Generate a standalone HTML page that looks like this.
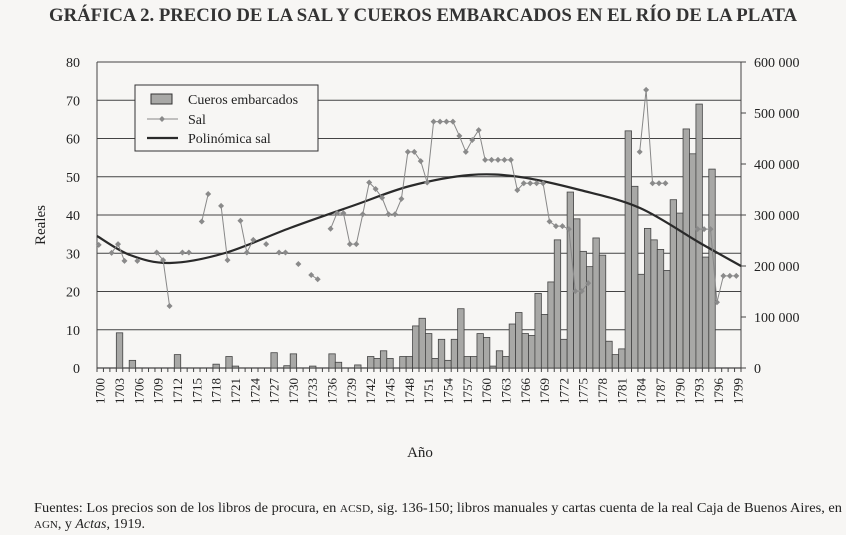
<!DOCTYPE html>
<html><head><meta charset="utf-8"><style>
body{margin:0;background:#f7f6f4;}
svg{display:block;font-family:"Liberation Serif",serif;}
</style></head><body>
<svg id="s" width="846" height="535" viewBox="0 0 846 535" xmlns="http://www.w3.org/2000/svg">
<rect width="846" height="535" fill="#f7f6f4"/>
<text x="49" y="21" font-size="18.5" fill="#333" font-weight="600" textLength="748" lengthAdjust="spacingAndGlyphs">GRÁFICA 2. PRECIO DE LA SAL Y CUEROS EMBARCADOS EN EL RÍO DE LA PLATA</text>
<g id="g"></g>
<text x="420" y="457" text-anchor="middle" font-size="15" fill="#222">Año</text>
<text transform="translate(45,225) rotate(-90)" text-anchor="middle" font-size="15" fill="#222">Reales</text>
<text x="34" y="512" font-size="14" fill="#222" textLength="808" lengthAdjust="spacingAndGlyphs">Fuentes: Los precios son de los libros de procura, en <tspan font-size="11">ACSD</tspan>, sig. 136-150; libros manuales y cartas cuenta de la real Caja de Buenos Aires, en</text>
<text x="34" y="528" font-size="14" fill="#222"><tspan font-size="11">AGN</tspan>, y <tspan font-style="italic">Actas</tspan>, 1919.</text>
</svg>
<script>
const g=document.getElementById('g');const NS="http://www.w3.org/2000/svg";
function el(t,a,txt){const e=document.createElementNS(NS,t);for(const k in a)e.setAttribute(k,a[k]);if(txt!==undefined)e.textContent=txt;g.appendChild(e);return e;}
const L=97,R=741,Y0=368,S=3.825,W=6.44;
const Y=v=>Y0-v*S, X=i=>L+W*(i+0.5);
for(let v=0;v<=80;v+=10){el('line',{x1:L,x2:R,y1:Y(v),y2:Y(v),stroke:'#444','stroke-width':v==0?1.3:1.1});
el('text',{x:80,y:Y(v)+5,'text-anchor':'end','font-size':14,fill:'#222'},v);}
el('line',{x1:L,x2:L,y1:Y(80),y2:Y0,stroke:'#444'});
el('line',{x1:R,x2:R,y1:Y(80),y2:Y0,stroke:'#444'});
const rl=['0','100 000','200 000','300 000','400 000','500 000','600 000'];
for(let k=0;k<=6;k++){const y=Y0-k*51;el('line',{x1:R,x2:R+5,y1:y,y2:y,stroke:'#444'});
el('text',{x:R+13,y:y+5,'font-size':14,fill:'#222'},rl[k]);}
const bars={1703:9.2,1705:2,1712:3.5,1718:1,1720:3,1721:0.5,1727:4,1729:0.6,1730:3.7,1733:0.5,1736:3.7,1737:1.5,1740:0.8,1742:3,1743:2.5,1744:4.5,1745:2.5,1747:3,1748:3,1749:11,1750:13,1751:9,1752:2.5,1753:7.5,1754:2,1755:7.5,1756:15.5,1757:3,1758:3,1759:9,1760:8,1761:0.5,1762:4.5,1763:3,1764:11.5,1765:14.5,1766:9,1767:8.5,1768:19.5,1769:14,1770:22.5,1771:33.5,1772:7.5,1773:46,1774:39,1775:30.5,1776:26.5,1777:34,1778:29.5,1779:7,1780:3.5,1781:5,1782:62,1783:47.5,1784:24.5,1785:36.5,1786:33.5,1787:31,1788:25.5,1789:44,1790:40.5,1791:62.5,1792:56,1793:69,1794:29,1795:52};
for(const y in bars){const i=y-1700,v=bars[y];el('rect',{x:L+W*i,y:Y(v),width:W,height:v*S,fill:'#a8a8a6',stroke:'#444','stroke-width':0.8});}
for(let i=0;i<=100;i++){el('line',{x1:L+W*i,x2:L+W*i,y1:Y0,y2:Y0+4,stroke:'#444'});}
for(let i=0;i<100;i+=3){el('text',{transform:`translate(${X(i)+4.5},404) rotate(-90)`,'font-size':13,fill:'#222'},1700+i);}
const tp=[[97,236],[130,255],[170,263],[225,253],[290,228],[355,205],[410,186],[470,175],[520,177],[580,190],[640,208],[700,243],[741,266]];
let d='M'+tp[0];for(let k=0;k<tp.length-1;k++){const p0=tp[k-1]||tp[k],p1=tp[k],p2=tp[k+1],p3=tp[k+2]||p2;
d+=` C${p1[0]+(p2[0]-p0[0])/6},${p1[1]+(p2[1]-p0[1])/6} ${p2[0]-(p3[0]-p1[0])/6},${p2[1]-(p3[1]-p1[1])/6} ${p2[0]},${p2[1]}`;}
el('path',{d,fill:'none',stroke:'#2a2a2a','stroke-width':2.2});
const segs=[[[1700,32.2]],[[1702,30.1],[1703,32.4],[1704,28]],[[1706,28]],[[1709,30.2],[1710,28.2],[1711,16.2]],[[1713,30.2],[1714,30.2]],[[1716,38.3],[1717,45.5]],[[1719,42.4],[1720,28.2]],[[1722,38.5],[1723,30.2],[1724,33.5]],[[1726,32.4]],[[1728,30.2],[1729,30.2]],[[1731,27.2]],[[1733,24.3],[1734,23.2]],
[[1736,36.4],[1737,40.5],[1738,40.5],[1739,32.4],[1740,32.4],[1741,40.2],[1742,48.5],[1743,46.8],[1744,44.5],[1745,40.2],[1746,40.2],[1747,44.2],[1748,56.5],[1749,56.5],[1750,54.1],[1751,48.5],[1752,64.4],[1753,64.4],[1754,64.4],[1755,64.4],[1756,60.7],[1757,56.5],[1758,59.6],[1759,62.2],[1760,54.4],[1761,54.4],[1762,54.4],[1763,54.4],[1764,54.4],[1765,46.5],[1766,48.3],[1767,48.3],[1768,48.3],[1769,48.3],[1770,38.3],[1771,37.1],[1772,37.1],[1773,36.3],[1774,20.1],[1775,20.1],[1776,22.2]],
[[1784,56.5],[1785,72.7],[1786,48.3],[1787,48.3],[1788,48.3]],[[1793,36.3],[1794,36.3],[1795,36.3],[1796,17.2],[1797,24.1],[1798,24.1],[1799,24.1]]];
for(const s of segs){const pts=s.map(p=>[X(p[0]-1700)-1.5,Y(p[1])]);
if(pts.length>1)el('polyline',{points:pts.join(' '),fill:'none',stroke:'#888','stroke-width':1});
for(const p of pts)el('path',{d:`M${p[0]-3},${p[1]} L${p[0]},${p[1]-3} L${p[0]+3},${p[1]} L${p[0]},${p[1]+3}Z`,fill:'#8a8a8a'});}
el('rect',{x:135,y:85,width:183,height:66,fill:'#f7f6f4',stroke:'#333','stroke-width':1});
el('rect',{x:151,y:94,width:21,height:10,fill:'#a8a8a6',stroke:'#333'});
el('text',{x:188,y:104,'font-size':14,fill:'#222'},'Cueros embarcados');
el('line',{x1:147,x2:178,y1:119,y2:119,stroke:'#888'});
el('path',{d:'M159,119 L162,116 L165,119 L162,122Z',fill:'#8a8a8a'});
el('text',{x:188,y:124,'font-size':14,fill:'#222'},'Sal');
el('line',{x1:147,x2:178,y1:138,y2:138,stroke:'#2a2a2a','stroke-width':2.2});
el('text',{x:188,y:143,'font-size':14,fill:'#222'},'Polinómica sal');
</script>
</body></html>
